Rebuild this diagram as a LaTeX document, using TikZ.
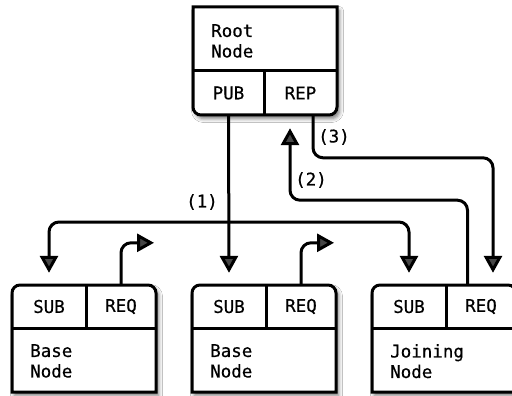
\documentclass[tikz,border=0pt]{standalone}
\usepackage{fontspec}
\setmonofont[FakeBold=0.5]{DejaVu Sans Mono}
\usetikzlibrary{arrows.meta,calc,shadows.blur}

\begin{document}
\begin{tikzpicture}[x=1pt,y=-1pt,
  >={Triangle[length=17pt,width=18pt]},
  every node/.style={font=\ttfamily\fontsize{17.5}{20.5}\selectfont, inner sep=0pt},
  box/.style={draw=black, line width=3pt, fill=white,
    blur shadow={shadow xshift=2.5pt, shadow yshift=-3.5pt, shadow blur radius=4pt, shadow opacity=55}},
  divider/.style={line width=3pt},
  desc/.style={anchor=north west, align=left},
  cellA/.style={minimum width=74pt, minimum height=43pt},
  cellB/.style={minimum width=70pt, minimum height=43pt},
  link/.style={line width=3pt, rounded corners=10pt, ->},
  tag/.style={anchor=center}
]
\useasboundingbox (0,0) rectangle (512,396);
\fill[white] (0,0) rectangle (512,396);

% Root node
\filldraw[box] (193,7) -- (337,7) -- (337,107) arc[start angle=0, end angle=90, radius=8]
  -- (201,115) arc[start angle=90, end angle=180, radius=8] -- cycle;
\draw[divider] (193,71) -- (337,71) (264,71) -- (264,115);
\node[desc] (rootname) at (211,24) {Root\\Node};
\node[minimum width=71pt, minimum height=44pt] (pub) at (228.5,93) {PUB};
\node[minimum width=73pt, minimum height=44pt] (rep) at (300.5,93) {REP};

% Base node 1
\filldraw[box] (12,392) -- (12,293) arc[start angle=180, end angle=270, radius=8]
  -- (148,285) arc[start angle=270, end angle=360, radius=8] -- (156,392) -- cycle;
\draw[divider] (12,328) -- (156,328) (86,285) -- (86,328);
\node[cellA] (sub1) at (49,306.5) {SUB};
\node[cellB] (req1) at (121,306.5) {REQ};
\node[desc] (base1) at (30,344) {Base\\Node};

% Base node 2
\filldraw[box] (192,392) -- (192,293) arc[start angle=180, end angle=270, radius=8]
  -- (328,285) arc[start angle=270, end angle=360, radius=8] -- (336,392) -- cycle;
\draw[divider] (192,328) -- (336,328) (266,285) -- (266,328);
\node[cellA] (sub2) at (229,306.5) {SUB};
\node[cellB] (req2) at (301,306.5) {REQ};
\node[desc] (base2) at (210,344) {Base\\Node};

% Joining node
\filldraw[box] (372,392) -- (372,293) arc[start angle=180, end angle=270, radius=8]
  -- (508,285) arc[start angle=270, end angle=360, radius=8] -- (516,392) -- cycle;
\draw[divider] (372,328) -- (516,328) (446,285) -- (446,328);
\node[cellA] (sub3) at (409,306.5) {SUB};
\node[cellB] (req3) at (481,306.5) {REQ};
\node[desc] (join) at (390,344) {Joining\\Node};

% Connectors
\coordinate (bus) at (229,222);
\draw[link] (pub.south) -- ($(sub2.north)+(0,-12)$);
\draw[link, <->] ($(sub1.north)+(0,-12)$) |- (bus) -| ($(sub3.north)+(0,-12)$);
\node[tag] (l1) at (202,202) {(1)};

\coordinate (out1) at ($(req1.north)+(33,-42)$);
\coordinate (out2) at ($(req2.north)+(33,-42)$);
\draw[link] (req1.north) |- (out1);
\draw[link] (req2.north) |- (out2);

\draw[link] ($(req3.north)+(-13.5,0)$) |- ($(rep.south)+(-10.5,85)$) -- ($(rep.south)+(-10.5,13)$);
\node[tag] (l2) at (311,180) {(2)};

\draw[link] ($(rep.south)+(12.5,0)$) |- ($(req3.north)+(12,-127)$) -- ($(req3.north)+(12,-12)$);
\node[tag] (l3) at (334,137) {(3)};
\end{tikzpicture}
\end{document}
